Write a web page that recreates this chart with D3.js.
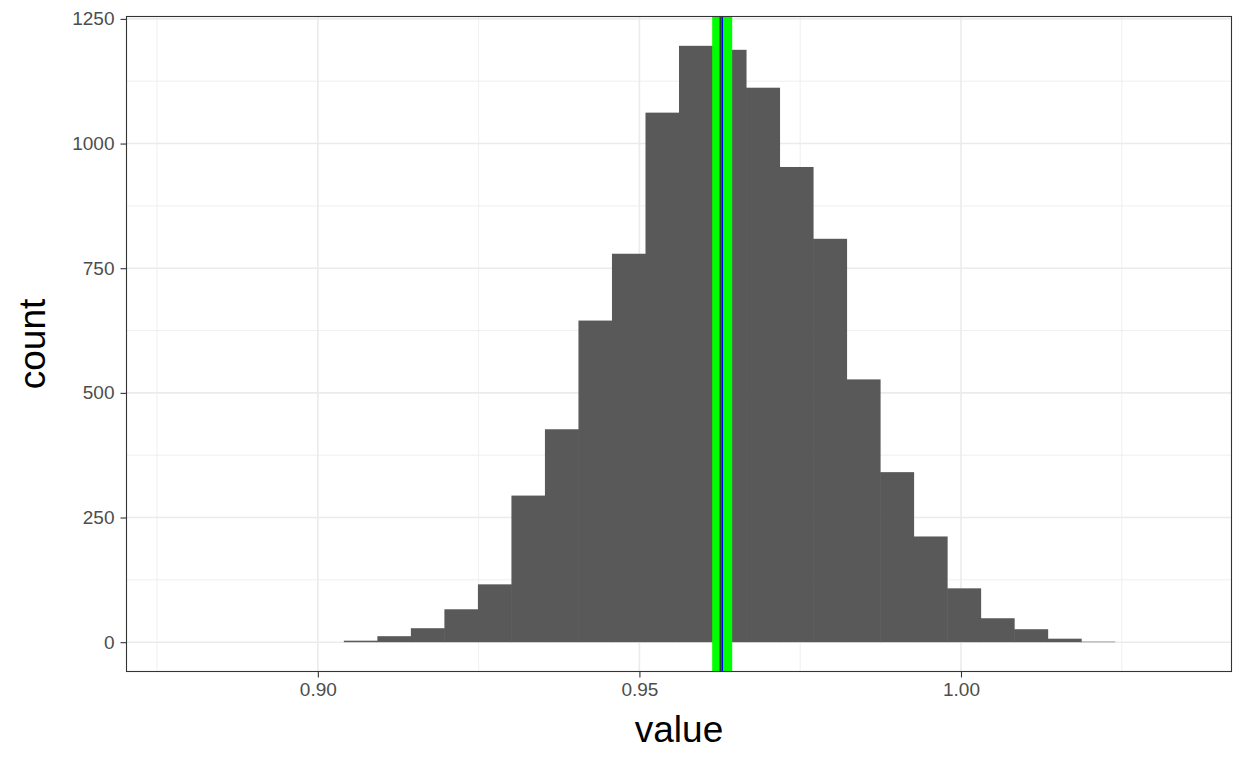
<!DOCTYPE html>
<html>
<head>
<meta charset="utf-8">
<script src="https://cdn.jsdelivr.net/npm/d3@7"></script>
<style>
body{margin:0;background:#fff;}
text{font-family:"Liberation Sans",Arial,sans-serif;}
</style>
</head>
<body>
<svg width="1248" height="768"></svg>
<script>
// histogram bins (30 bins, start + width), counts
var binStart = 0.87799;
var binWidth = 0.005211;
var counts = [0,0,0,0,0,3,12,28,66,116,294,427,645,779,1062,1196,1188,1112,953,809,527,341,212,108,48,26,7,1,0,0];
var xTicks = [0.90,0.95,1.00];
var xMinor = [0.875,0.925,0.975,1.025];
var yTicks = [0,250,500,750,1000,1250];
var yMinor = [125,375,625,875,1125];
var band = 0.96287;   // green band centre
var lineBlack = 0.96256;
var lineBlue = 0.96287;

var svg = d3.select('svg');
var pL=126, pR=1232, pT=16, pB=672;

var bins = counts.map(function(c,i){return {x0:binStart+i*binWidth, x1:binStart+(i+1)*binWidth, n:c};});
var xmin = binStart, xmax = binStart+counts.length*binWidth;
var pad = (xmax-xmin)*0.05;
var x = d3.scaleLinear().domain([xmin-pad,xmax+pad]).range([pL,pR]);
var ymax = d3.max(counts);
var y = d3.scaleLinear().domain([-ymax*0.05,ymax*1.05]).range([pB,pT]);

// panel background
svg.append('rect').attr('x',pL).attr('y',pT).attr('width',pR-pL).attr('height',pB-pT).attr('fill','white');

// grid
svg.selectAll('.xmin').data(xMinor).enter().append('line')
 .attr('x1',function(d){return x(d);}).attr('x2',function(d){return x(d);})
 .attr('y1',pT).attr('y2',pB).attr('stroke','#ebebeb').attr('stroke-width',0.8);
svg.selectAll('.ymin').data(yMinor).enter().append('line')
 .attr('y1',function(d){return y(d);}).attr('y2',function(d){return y(d);})
 .attr('x1',pL).attr('x2',pR).attr('stroke','#ebebeb').attr('stroke-width',0.8);
svg.selectAll('.xmaj').data(xTicks).enter().append('line')
 .attr('x1',function(d){return x(d);}).attr('x2',function(d){return x(d);})
 .attr('y1',pT).attr('y2',pB).attr('stroke','#ebebeb').attr('stroke-width',1.6);
svg.selectAll('.ymaj').data(yTicks).enter().append('line')
 .attr('y1',function(d){return y(d);}).attr('y2',function(d){return y(d);})
 .attr('x1',pL).attr('x2',pR).attr('stroke','#ebebeb').attr('stroke-width',1.6);

// bars
svg.selectAll('.bar').data(bins.filter(function(b){return b.n>0;})).enter().append('rect')
 .attr('x',function(d){return x(d.x0);})
 .attr('width',function(d){return x(d.x1)-x(d.x0)+0.5;})
 .attr('y',function(d){return y(d.n);})
 .attr('height',function(d){return y(0)-y(d.n);})
 .attr('fill','#595959');

// vertical lines
svg.append('line').attr('x1',x(band)).attr('x2',x(band)).attr('y1',pT).attr('y2',pB)
 .attr('stroke','#00ff00').attr('stroke-width',20);
svg.append('line').attr('x1',x(lineBlack)).attr('x2',x(lineBlack)).attr('y1',pT).attr('y2',pB)
 .attr('stroke','#222').attr('stroke-width',1.2);
svg.append('line').attr('x1',x(lineBlue)).attr('x2',x(lineBlue)).attr('y1',pT).attr('y2',pB)
 .attr('stroke','#0000ff').attr('stroke-width',1.6);

// border
svg.append('rect').attr('x',pL+0.5).attr('y',pT+0.5).attr('width',pR-pL-1).attr('height',pB-pT-1)
 .attr('fill','none').attr('stroke','#333333').attr('stroke-width',1.1);

// axes
var xAxis = d3.axisBottom(x).tickValues(xTicks).tickFormat(d3.format('.2f')).tickSize(5.5).tickPadding(5);
var gx = svg.append('g').attr('transform','translate(0,'+pB+')').call(xAxis);
var yAxis = d3.axisLeft(y).tickValues(yTicks).tickFormat(d3.format('d')).tickSize(5.5).tickPadding(6);
var gy = svg.append('g').attr('transform','translate('+pL+',0)').call(yAxis);
[gx,gy].forEach(function(g){
  g.select('.domain').remove();
  g.selectAll('.tick line').attr('stroke','#333333').attr('stroke-width',1.1);
  g.selectAll('.tick text').attr('fill','#4d4d4d').style('font-size','19px').style('font-family','"Liberation Sans",Arial,sans-serif');
});

// titles
svg.append('text').attr('x',(pL+pR)/2).attr('y',742).attr('text-anchor','middle')
 .style('font-size','37px').attr('fill','black').text('value');
svg.append('text').attr('transform','translate(45,'+((pT+pB)/2)+') rotate(-90)').attr('text-anchor','middle')
 .style('font-size','37px').attr('fill','black').text('count');
</script>
</body>
</html>
